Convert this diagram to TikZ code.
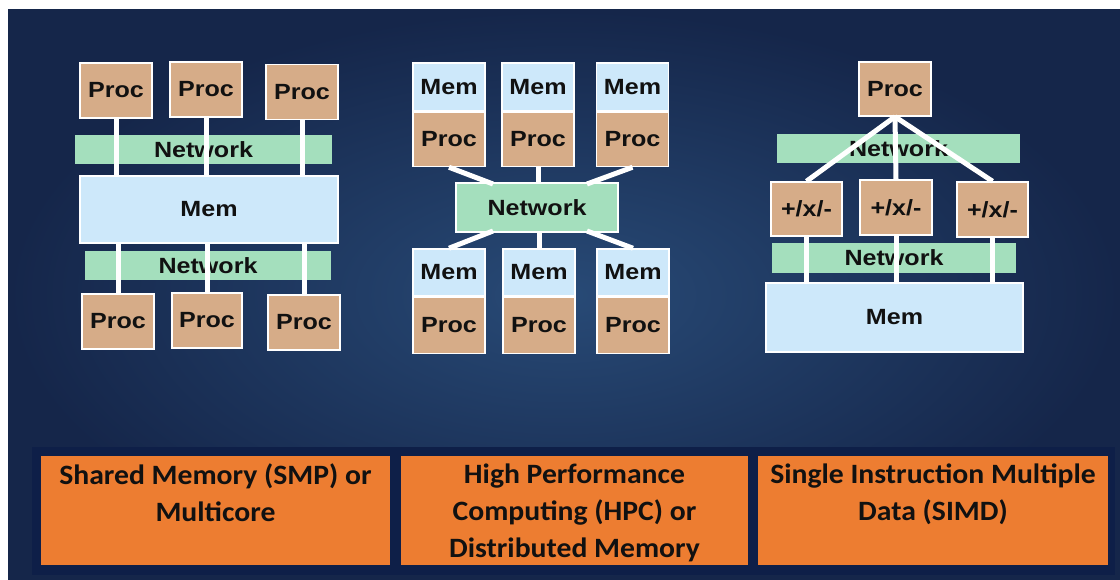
\documentclass[tikz,border=0pt]{standalone}
\usepackage{fontspec}
\setmainfont{Liberation Sans}
\newfontfamily\calfont{Carlito}
\usepackage{graphicx}
\usetikzlibrary{calc}
\definecolor{bgin}{HTML}{284A76}
\definecolor{bgout}{HTML}{15264A}
\definecolor{procc}{HTML}{D6AC88}
\definecolor{memc}{HTML}{CDE8FA}
\definecolor{netc}{HTML}{A4DFBD}
\definecolor{orng}{HTML}{ED7D31}
\definecolor{bandc}{HTML}{0E1F48}
\definecolor{ink}{HTML}{111111}
\newcommand\sx[1]{\scalebox{1.14}[1]{#1}}
\newcommand\ox[1]{\scalebox{1.06}[1]{#1}}
\tikzset{
  bx/.style={draw=white, line width=1.5pt, inner sep=0pt, text=ink,
    font=\bfseries\fontsize{22}{22}\selectfont},
  procbox/.style={bx, fill=procc},
  membox/.style={bx, fill=memc},
  netbox/.style={inner sep=0pt, fill=netc, text=ink,
    font=\bfseries\fontsize{22}{22}\selectfont},
  wire/.style={draw=white, line width=5pt},
  obox/.style={fill=orng, inner sep=0pt},
  otext/.style={inner sep=0pt, text=ink, align=center,
    font=\calfont\bfseries\fontsize{28}{37}\selectfont},
}
\begin{document}
\begin{tikzpicture}[x=1pt,y=-1pt]
\useasboundingbox (0,0) rectangle (1120,580);
\fill[white] (0,0) rectangle (1120,580);
\shade[inner color=bgin, outer color=bgout] (8,10) rectangle (1120,580);

% ---------- Shared memory ----------
\node[netbox, minimum width=257pt, minimum height=29pt] (sn1) at (203.5,149.5) {\sx{Network}};
\node[netbox, minimum width=246pt, minimum height=29pt] (sn2) at (208,265.5) {\sx{Network}};
\node[membox, minimum width=258pt, minimum height=67pt] (smem) at (209,209.5) {\sx{Mem}};
\node[procbox, minimum width=72pt, minimum height=55pt] (sp1) at (116,90.5) {\sx{Proc}};
\node[procbox, minimum width=72pt, minimum height=55pt] (sp2) at (206,89.5) {\sx{Proc}};
\node[procbox, minimum width=72pt, minimum height=55pt] (sp3) at (302,92) {\sx{Proc}};
\node[procbox, minimum width=72pt, minimum height=55pt] (sq1) at (118,321.5) {\sx{Proc}};
\node[procbox, minimum width=70pt, minimum height=55pt] (sq2) at (207,320.5) {\sx{Proc}};
\node[procbox, minimum width=72pt, minimum height=55pt] (sq3) at (304,322.5) {\sx{Proc}};
\foreach \p in {sp1,sp2,sp3}{\draw[wire] (\p.south) -- (\p.south |- smem.north);}
\foreach \p in {sq1,sq2,sq3}{\draw[wire] (\p.north) -- (\p.north |- smem.south);}

% ---------- Distributed memory ----------
\node[netbox, draw=white, line width=1.5pt, minimum width=162pt, minimum height=49pt] (hnet) at (537,207.5) {\sx{Network}};
\foreach \n/\x in {1/449,2/538,3/632.5}{
  \node[membox, minimum width=72pt, minimum height=48pt] (hm\n) at (\x,87) {\sx{Mem}};
  \node[procbox, minimum width=72pt, minimum height=54pt, anchor=north] (hp\n) at (hm\n.south) {\sx{Proc}};
}
\foreach \n/\x in {1/449,2/539,3/633}{
  \node[membox, minimum width=72pt, minimum height=47pt] (lm\n) at (\x,272.5) {\sx{Mem}};
  \node[procbox, minimum width=72pt, minimum height=56pt, anchor=north] (lp\n) at (lm\n.south) {\sx{Proc}};
}
\coordinate (ht1) at (493,184);
\coordinate (ht3) at (587,184);
\coordinate (hb1) at (493,231);
\coordinate (hb3) at (587,231);
\draw[wire] (hp1.south) -- (ht1);
\draw[wire] (hp2.south) -- (hp2.south |- hnet.north);
\draw[wire] (hp3.south) -- (ht3);
\draw[wire] (lm1.north) -- (hb1);
\draw[wire] (lm2.north) -- (lm2.north |- hnet.south);
\draw[wire] (lm3.north) -- (hb3);

% ---------- SIMD ----------
\node[netbox, minimum width=243pt, minimum height=29pt] (dn1) at (898.5,148.5) {\sx{Network}};
\node[netbox, minimum width=244pt, minimum height=30pt] (dn2) at (894,258) {\sx{Network}};
\node[procbox, minimum width=72pt, minimum height=54pt] (dp) at (895,89) {\sx{Proc}};
\node[procbox, minimum width=71pt, minimum height=54pt] (da1) at (806.5,209) {\sx{+/x/-}};
\node[procbox, minimum width=72pt, minimum height=55pt] (da2) at (896,207.5) {\sx{+/x/-}};
\node[procbox, minimum width=71pt, minimum height=55pt] (da3) at (992.5,209.5) {\sx{+/x/-}};
\node[membox, minimum width=257pt, minimum height=69pt] (dmem) at (894.5,317.5) {\sx{Mem}};
\foreach \a in {da1,da2,da3}{
  \draw[wire] (dp.south) -- (\a.north);
  \draw[wire] (\a.south) -- (\a.south |- dmem.north);
}

% ---------- Bottom labels ----------
\fill[bandc] (32,447) rectangle (1115,575);
\node[obox, minimum width=349pt, minimum height=109pt] (b1) at (215.5,510.5) {};
\node[obox, minimum width=347pt, minimum height=109pt] (b2) at (574.5,510.5) {};
\node[obox, minimum width=350pt, minimum height=109pt] (b3) at (933,510.5) {};
\node[otext, anchor=north] at ($(b1.north)+(0,8)$) {\ox{Shared Memory (SMP) or}\\\ox{Multicore}};
\node[otext, anchor=north] at ($(b2.north)+(0,8)$) {\ox{High Performance}\\\ox{Computing (HPC) or}\\\ox{Distributed Memory}};
\node[otext, anchor=north] at ($(b3.north)+(0,8)$) {\ox{Single Instruction Multiple}\\\ox{Data (SIMD)}};
\end{tikzpicture}
\end{document}
